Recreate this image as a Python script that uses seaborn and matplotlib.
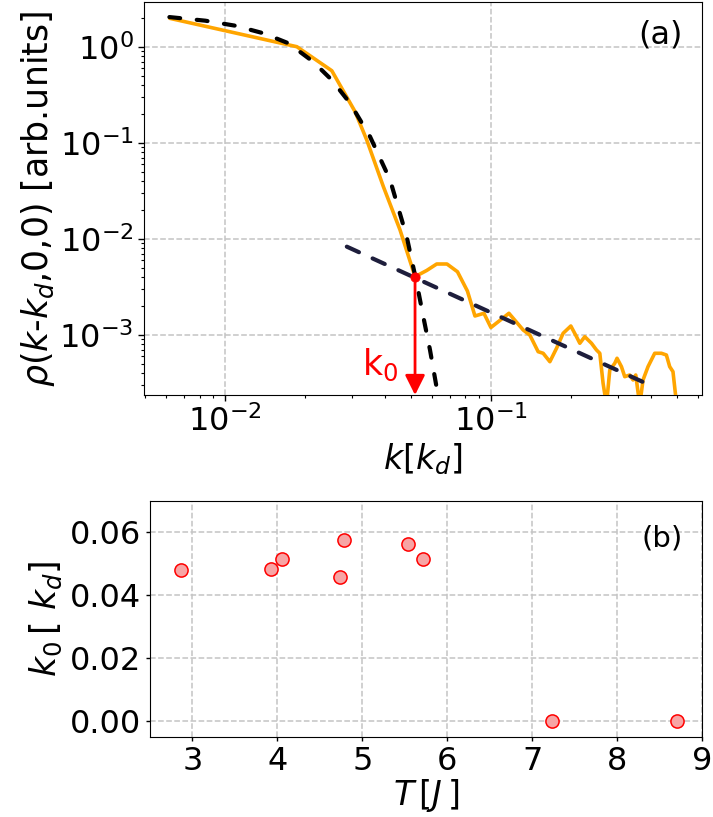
import matplotlib
matplotlib.use("Agg")
import matplotlib.pyplot as plt
import seaborn as sns
import pandas as pd

# ---------------- data (panel a) ----------------
k_data = [0.006176, 0.01860, 0.02518, 0.03081, 0.03409, 0.03937, 0.04549, 0.0518,
          0.05731, 0.06251, 0.06832, 0.07483, 0.08157, 0.08708, 0.09412, 0.1000,
          0.1169, 0.1323, 0.1401, 0.1506, 0.1573, 0.1667, 0.1766, 0.1870, 0.1999,
          0.2100, 0.2161, 0.2256, 0.2391, 0.2497, 0.2570, 0.2644, 0.2723, 0.2802,
          0.2926, 0.2984, 0.3100, 0.3190, 0.3331, 0.3428, 0.3509, 0.3633, 0.3738,
          0.3903, 0.4136, 0.4383, 0.4577, 0.4710, 0.4846, 0.5003]
rho_data = [1.99, 1.007, 0.566, 0.2118, 0.1074, 0.0351, 0.01241, 0.00405,
            0.00470, 0.00549, 0.00549, 0.00456, 0.00287, 0.001578, 0.001683, 0.001197,
            0.001683, 0.001127, 0.001000, 0.000670, 0.000645, 0.000527, 0.000727, 0.001042, 0.001241,
            0.000960, 0.000820, 0.000960, 0.000820, 0.000698, 0.000645, 0.000314, 0.000187, 0.000432,
            0.000507, 0.000572, 0.000468, 0.000368, 0.000383, 0.000340, 0.000383, 0.000187, 0.000340,
            0.000468, 0.000645, 0.000645, 0.000619, 0.000468, 0.000415, 0.000187]

k_fit = [0.00616, 0.00841, 0.01090, 0.01393, 0.01730, 0.02142, 0.02518, 0.02951,
         0.03508, 0.04173, 0.04819, 0.05256, 0.05565, 0.05898, 0.06250]
rho_fit = [2.05, 1.88, 1.667, 1.389, 1.093, 0.703, 0.453, 0.259,
           0.1164, 0.0412, 0.01057, 0.00348, 0.00155, 0.000698, 0.000281]

k_pow = [0.02868, 0.3961]
rho_pow = [0.00832, 0.000301]

k0_point = 0.0518
rho0_point = 0.00405

# ---------------- data (panel b) ----------------
T_vals = [2.87, 3.92, 4.06, 4.74, 4.78, 5.54, 5.71, 7.23, 8.71]
k0_vals = [0.0482, 0.0484, 0.0517, 0.0460, 0.0575, 0.0563, 0.0516, 0.0, 0.0]

x_ticks_b = [3, 4, 5, 6, 7, 8, 9]
y_ticks_b = [0.00, 0.02, 0.04, 0.06]

# ---------------- style ----------------
sns.set_style("whitegrid", {
    "grid.linestyle": "--",
    "grid.color": "#c4c4c4",
    "axes.edgecolor": "black",
    "axes.linewidth": 2.0,
    "xtick.bottom": True,
    "ytick.left": True,
    "text.color": "black",
    "axes.labelcolor": "black",
    "xtick.color": "black",
    "ytick.color": "black",
})
plt.rcParams["font.family"] = ["DejaVu Sans"]
plt.rcParams["mathtext.fontset"] = "dejavusans"
plt.rcParams["grid.linewidth"] = 1.1

FS = 23

fig = plt.figure(figsize=(7.13, 8.17), dpi=100)
ax1 = fig.add_axes([0.2020, 0.5165, 0.7826, 0.4810])
ax2 = fig.add_axes([0.2104, 0.0979, 0.7742, 0.2889])

# ---------------- panel a ----------------
df_data = pd.DataFrame({"k": k_data, "rho": rho_data})
df_fit = pd.DataFrame({"k": k_fit, "rho": rho_fit})
df_pow = pd.DataFrame({"k": k_pow, "rho": rho_pow})

ax1.set_xscale("log")
ax1.set_yscale("log")
sns.lineplot(data=df_data, x="k", y="rho", ax=ax1, color="#FFA500", lw=2.6, zorder=3)
sns.lineplot(data=df_fit, x="k", y="rho", ax=ax1, color="black", lw=3.0, zorder=4,
             dashes=False)
ax1.lines[-1].set_dashes((2.6, 4.0))
ax1.lines[-1].set_dash_capstyle("round")
sns.lineplot(data=df_pow, x="k", y="rho", ax=ax1, color="#1e1e3c", lw=3.0, zorder=4,
             dashes=False)
ax1.lines[-1].set_dashes((3.2, 3.6))
ax1.lines[-1].set_dash_capstyle("round")

y_bottom = 2.37e-4
ax1.set_ylim(y_bottom, 2.94)

ax1.annotate("", xy=(k0_point, y_bottom), xytext=(k0_point, rho0_point),
             arrowprops=dict(arrowstyle="-|>,head_length=0.4,head_width=0.2",
                             color="red", lw=2.0, mutation_scale=30,
                             shrinkA=0, shrinkB=0), zorder=5)
sns.scatterplot(x=[k0_point], y=[rho0_point], ax=ax1, color="red", s=45,
                edgecolor="red", zorder=6, legend=False)
ax1.text(0.0450, 4.9e-4, r"$\mathregular{k_0}$", color="red", fontsize=25,
         ha="right", va="center")

ax1.text(0.965, 0.955, "(a)", transform=ax1.transAxes, fontsize=FS,
         ha="right", va="top")
ax1.set_xlabel(r"$k[k_d]$", fontsize=24, labelpad=2)
ax1.set_ylabel(r"$\rho(k$-$k_d{,}0{,}0)$ [arb.units]", fontsize=25, labelpad=2)
ax1.tick_params(axis="both", which="major", labelsize=FS, length=4, width=1,
                color="black", direction="out")
ax1.tick_params(axis="both", which="minor", length=2.5, width=0.8,
                color="black", direction="out")
ax1.grid(True, which="major")
ax1.grid(False, which="minor")

# ---------------- panel b ----------------
df_b = pd.DataFrame({"T": T_vals, "k0": k0_vals})
sns.scatterplot(data=df_b, x="T", y="k0", ax=ax2, color="#f7a5a5",
                edgecolor="red", linewidth=1.1, s=90, zorder=3, legend=False)
ax2.set_xlim(2.5, 9)
ax2.set_ylim(-0.005, 0.07)
ax2.set_xticks(x_ticks_b)
ax2.set_yticks(y_ticks_b)
ax2.set_yticklabels([f"{v:.2f}" for v in y_ticks_b])
ax2.text(0.965, 0.9, "(b)", transform=ax2.transAxes, fontsize=21,
         ha="right", va="top")
ax2.set_xlabel(r"$T\,[J\,]$", fontsize=24, labelpad=0)
ax2.set_ylabel(r"$k_0\,[\ k_d]$", fontsize=25, labelpad=4)
ax2.tick_params(axis="both", which="major", labelsize=FS, length=3, width=1,
                color="black", direction="out")

fig.savefig("out.png", dpi=100)
